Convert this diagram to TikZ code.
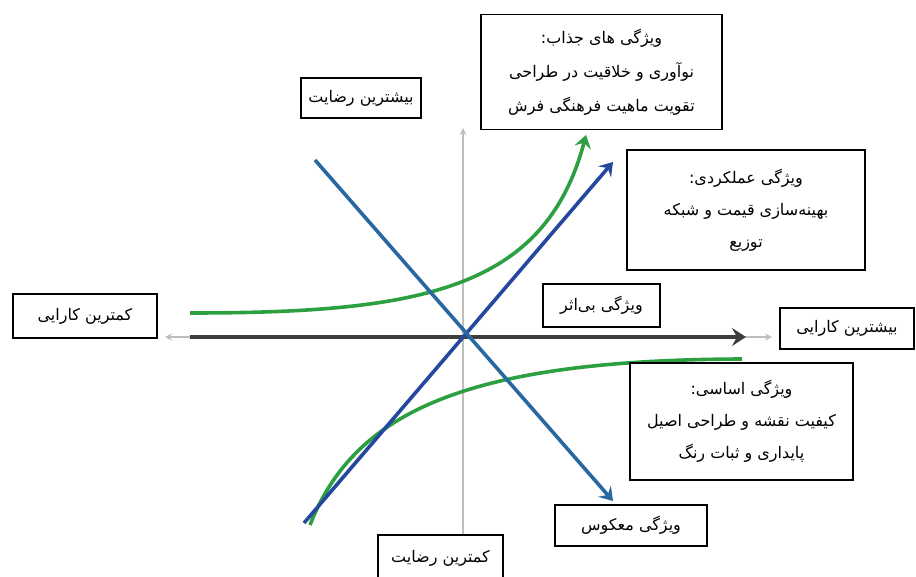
\documentclass[tikz,border=0pt]{standalone}
\usepackage{fontspec}
\newfontfamily\arabicfont[Script=Arabic]{DejaVu Sans}
\TeXXeTstate=1
\usetikzlibrary{arrows.meta}
\newcommand{\fa}[1]{\beginR #1\endR}
\definecolor{kgreen}{RGB}{44,160,64}
\definecolor{kdblue}{RGB}{36,72,158}
\definecolor{ksblue}{RGB}{40,104,160}
\definecolor{kdgray}{RGB}{62,62,62}
\definecolor{kaxis}{RGB}{190,190,190}
\tikzset{
  box/.style={draw=black, line width=1.3pt, fill=white, inner sep=0pt, align=center,
    font=\arabicfont\fontsize{16}{33}\selectfont},
  axisline/.style={draw=kaxis, line width=1.3pt, {Stealth[length=7pt,width=7pt]}-{Stealth[length=7pt,width=7pt]}},
  kline/.style={line width=3.6pt, -{Stealth[length=13pt,width=17pt,inset=5pt]}},
}
\begin{document}
\begin{tikzpicture}[x=1pt,y=-1pt]
\useasboundingbox (0,0) rectangle (916,577);
% axes
\coordinate (axL) at (165,337);
\coordinate (axR) at (772,337);
\coordinate (axT) at (463,128);
\coordinate (axB) at (463,545);
\draw[axisline] (axL) -- (axR);
\draw[axisline] (axT) -- (axB);
% green curves
\coordinate (g1s) at (190,313);
\coordinate (g1e) at (586,135);
\draw[kgreen, kline] (g1s) .. controls (420,313) and (545,290) .. (g1e);
\coordinate (g2s) at (310,525);
\coordinate (g2e) at (742,359);
\draw[kgreen, line width=3.6pt] (g2s) .. controls (355,410) and (470,360) .. (g2e);
% dark gray arrow
\coordinate (hs) at (190,337);
\coordinate (he) at (746,337);
\draw[kdgray, line width=4.5pt, -{Stealth[length=14pt,width=18pt,inset=5pt]}] (hs) -- (he);
% blue lines
\coordinate (b1s) at (304,523);
\coordinate (b1e) at (613,162);
\draw[kdblue, kline] (b1s) -- (b1e);
\coordinate (b2s) at (315,160);
\coordinate (b2e) at (613,501);
\draw[ksblue, kline] (b2s) -- (b2e);
% boxes
\node[box, minimum width=241pt, minimum height=115pt, font=\arabicfont\fontsize{16}{34}\selectfont] (attr) at (601.5,72)
  {\fa{ویژگی های جذاب:}\\\fa{نوآوری و خلاقیت در طراحی}\\\fa{تقویت ماهیت فرهنگی فرش}};
\node[box, minimum width=238pt, minimum height=120pt, font=\arabicfont\fontsize{16}{32}\selectfont] (perf) at (746,210)
  {\fa{ویژگی عملکردی:}\\\fa{بهینه‌سازی قیمت و شبکه}\\\fa{توزیع}};
\node[box, minimum width=223pt, minimum height=117pt, font=\arabicfont\fontsize{16}{32}\selectfont] (basic) at (741.5,421.5)
  {\fa{ویژگی اساسی:}\\\fa{کیفیت نقشه و طراحی اصیل}\\\fa{پایداری و ثبات رنگ}};
\node[box, minimum width=120pt, minimum height=40pt] (maxsat) at (361,98) {\fa{بیشترین رضایت}};
\node[box, minimum width=144pt, minimum height=44pt] (minperf) at (85,316) {\fa{کمترین کارایی}};
\node[box, minimum width=134pt, minimum height=41pt] (maxperf) at (847,328.5) {\fa{بیشترین کارایی}};
\node[box, minimum width=125pt, minimum height=46pt] (minsat) at (440.5,558) {\fa{کمترین رضایت}};
\node[box, minimum width=152pt, minimum height=41pt] (rev) at (631,525.5) {\fa{ویژگی معکوس}};
\node[box, minimum width=117pt, minimum height=43pt] (indiff) at (601.5,305.5) {\fa{ویژگی بی‌اثر}};
\end{tikzpicture}
\end{document}
